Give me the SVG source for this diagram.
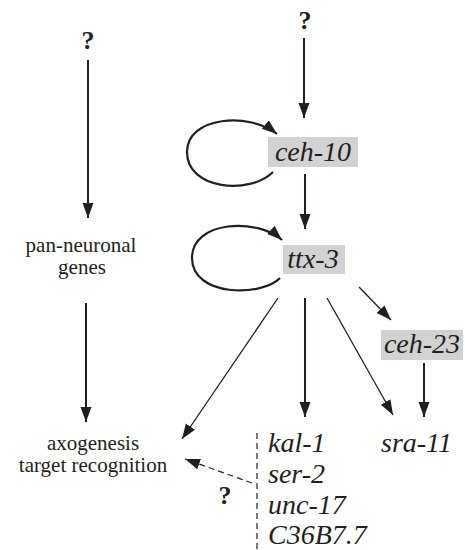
<svg xmlns="http://www.w3.org/2000/svg" width="465" height="550" viewBox="0 0 465 550" font-family="Liberation Serif, Times New Roman, serif">
  <style>
    text { fill: #231f20; }
    .q { font-weight: bold; font-size: 26px; text-anchor: middle; }
    .lbl { font-size: 21px; text-anchor: middle; }
    .gene { font-style: italic; font-size: 28px; }
    .box { fill: #d2d2d2; }
    .thick { stroke: #231f20; stroke-width: 2; fill: none; }
    .thin { stroke: #231f20; stroke-width: 1.3; fill: none; }
    .loop { stroke: #231f20; stroke-width: 2.2; fill: none; }
    .dash { stroke: #231f20; stroke-width: 1.2; fill: none; stroke-dasharray: 6 4; }
  </style>
  <defs>
    <marker id="head" markerUnits="userSpaceOnUse" markerWidth="16" markerHeight="12" refX="15" refY="5.5" orient="auto">
      <path d="M0,0 L15,5.5 L0,11 z" fill="#231f20"/>
    </marker>
  </defs>

  <!-- left column -->
  <g id="q-left"><text class="q" x="88" y="49">?</text></g>
  <g id="pan-neuronal">
    <text class="lbl" x="81" y="252">pan-neuronal</text>
    <text class="lbl" x="82" y="274">genes</text>
  </g>
  <g id="axogenesis">
    <text class="lbl" x="93" y="450">axogenesis</text>
    <text class="lbl" x="93" y="472">target recognition</text>
  </g>

  <!-- right column -->
  <g id="q-right"><text class="q" x="305" y="29">?</text></g>
  <g id="ceh-10">
    <rect class="box" x="268" y="137" width="90" height="30"/>
    <text class="gene" x="313" y="161" text-anchor="middle" font-size="30">ceh-10</text>
  </g>
  <g id="ttx-3">
    <rect class="box" x="283" y="245" width="62" height="29"/>
    <text class="gene" x="313" y="268" text-anchor="middle" font-size="29">ttx-3</text>
  </g>
  <g id="ceh-23">
    <rect class="box" x="381" y="330" width="82" height="30"/>
    <text class="gene" x="422" y="353" text-anchor="middle">ceh-23</text>
  </g>
  <g id="sra-11"><text class="gene" x="381" y="452">sra-11</text></g>
  <g id="targets">
    <text class="gene" x="268" y="452">kal-1</text>
    <text class="gene" x="268" y="483">ser-2</text>
    <text class="gene" x="268" y="514">unc-17</text>
    <text class="gene" x="268" y="544">C36B7.7</text>
  </g>
  <g id="q-dashed"><text class="q" x="225" y="504">?</text></g>

  <!-- connectors -->
  <g id="connectors">
    <line class="thick" x1="88" y1="60" x2="88" y2="218" marker-end="url(#head)"/>
    <line class="thick" x1="86" y1="303" x2="86" y2="422" marker-end="url(#head)"/>
    <line class="thick" x1="304" y1="38" x2="304" y2="118" marker-end="url(#head)"/>
    <path class="loop" d="M273,172 C250,195 187,190 187,152 C187,116 250,112 277,134" marker-end="url(#head)"/>
    <line class="thick" x1="305" y1="174" x2="305" y2="229" marker-end="url(#head)"/>
    <path class="loop" d="M280,278 C262,297 192,297 192,258 C192,220 258,218 282,240" marker-end="url(#head)"/>
    <line class="thin" x1="278" y1="298" x2="182" y2="439" marker-end="url(#head)"/>
    <line class="thick" x1="305" y1="298" x2="305" y2="417" marker-end="url(#head)"/>
    <line class="thin" x1="327" y1="298" x2="393" y2="415" marker-end="url(#head)"/>
    <line class="thin" x1="359" y1="287" x2="391" y2="320" marker-end="url(#head)"/>
    <line class="thick" x1="424" y1="363" x2="424" y2="417" marker-end="url(#head)"/>
    <line class="dash" x1="257" y1="433" x2="257" y2="550"/>
    <line class="dash" x1="252" y1="483" x2="185" y2="459" marker-end="url(#head)"/>
  </g>
</svg>
